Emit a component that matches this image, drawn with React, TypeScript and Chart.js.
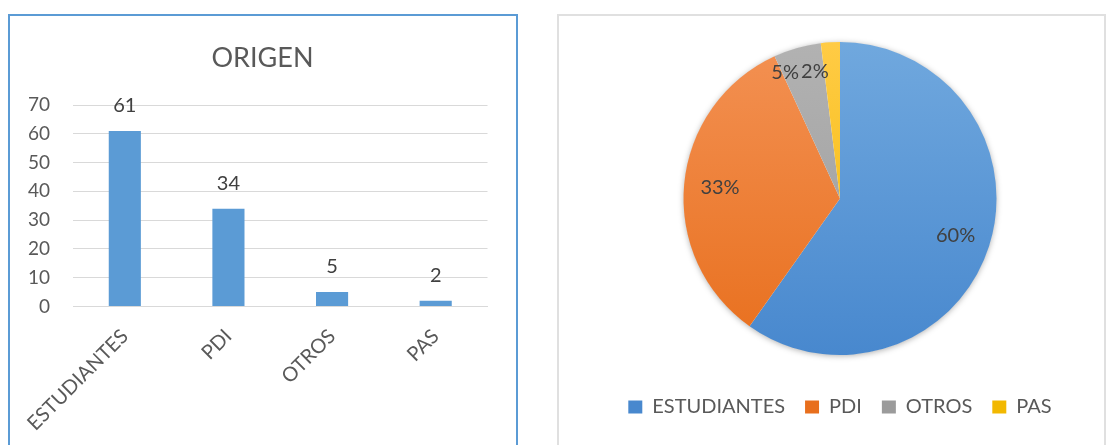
import React, { useEffect, useRef } from "react";
import { Chart, registerables } from "chart.js";

Chart.register(...registerables);

// ---- data ----
const categories = ["ESTUDIANTES", "PDI", "OTROS", "PAS"];
const values = [61, 34, 5, 2];
const yTickValues = [0, 10, 20, 30, 40, 50, 60, 70];
const chartTitle = "ORIGEN";

// ---- styles ----
const FONT = "Lato, 'Open Sans', sans-serif";
const barColor = "#5B9BD5";
const pieLight = ["#70A8DE", "#F39153", "#B2B2B2", "#FFCB45"];
const pieDark = ["#4888CE", "#E86F1D", "#9B9B9B", "#F2B800"];
const pieLabelRadius = [0.775, 0.77, 0.88, 0.83];
const pieLabelShiftDeg = [0, 0, -7.6, -7.6];
const PIE_R = 156.5;

const barLabelPlugin = {
  id: "barLabels",
  afterDatasetsDraw(chart: any) {
    const { ctx } = chart;
    const meta = chart.getDatasetMeta(0);
    ctx.save();
    ctx.font = `20px ${FONT}`;
    ctx.fillStyle = "#404040";
    ctx.textAlign = "center";
    ctx.textBaseline = "alphabetic";
    meta.data.forEach((el: any, i: number) => {
      ctx.fillText(String(values[i]), el.x, el.y - 19);
    });
    ctx.restore();
  },
};

const pieShadowPlugin = {
  id: "pieShadow",
  beforeDatasetsDraw(chart: any) {
    const { ctx } = chart;
    const arc = chart.getDatasetMeta(0).data[0];
    if (!arc) return;
    const p = arc.getProps(["x", "y", "outerRadius"], true);
    ctx.save();
    ctx.shadowColor = "rgba(0,0,0,0.35)";
    ctx.shadowBlur = 6;
    ctx.shadowOffsetX = 0;
    ctx.shadowOffsetY = 1;
    ctx.fillStyle = "#FFFFFF";
    ctx.beginPath();
    ctx.arc(p.x, p.y, p.outerRadius - 0.5, 0, Math.PI * 2);
    ctx.fill();
    ctx.restore();
  },
};

const pieLabelPlugin = {
  id: "pieLabels",
  afterDatasetsDraw(chart: any) {
    const { ctx } = chart;
    const meta = chart.getDatasetMeta(0);
    const total = values.reduce((a, b) => a + b, 0);
    ctx.save();
    ctx.font = `20px ${FONT}`;
    ctx.fillStyle = "#404040";
    ctx.textAlign = "center";
    ctx.textBaseline = "middle";
    meta.data.forEach((arc: any, i: number) => {
      const p = arc.getProps(["x", "y", "startAngle", "endAngle", "outerRadius"], true);
      const a = (p.startAngle + p.endAngle) / 2 + (pieLabelShiftDeg[i] * Math.PI) / 180;
      const r = p.outerRadius * pieLabelRadius[i];
      ctx.fillText(`${Math.round((values[i] / total) * 100)}%`, p.x + r * Math.cos(a), p.y + r * Math.sin(a));
    });
    ctx.restore();
  },
};

function BarChart() {
  const ref = useRef<HTMLCanvasElement>(null);
  useEffect(() => {
    if (!ref.current) return;
    const chart = new Chart(ref.current, {
      type: "bar",
      data: {
        labels: categories,
        datasets: [
          {
            data: values,
            backgroundColor: barColor,
            barPercentage: 0.31,
            categoryPercentage: 1,
          },
        ],
      },
      options: {
        animation: false,
        responsive: false,
        maintainAspectRatio: false,
        layout: { padding: { left: 0, right: 0, top: 0, bottom: 0 } },
        plugins: {
          legend: { display: false },
          tooltip: { enabled: false },
          title: {
            display: true,
            text: chartTitle,
            color: "#595959",
            font: { family: FONT, size: 27, weight: "normal" as any },
            padding: { top: 26, bottom: 30.6 },
          },
        },
        scales: {
          x: {
            grid: { display: false, drawTicks: false },
            border: { display: true, color: "#D9D9D9", width: 1 },
            ticks: {
              color: "#595959",
              font: { family: FONT, size: 20 },
              maxRotation: 45,
              minRotation: 45,
              padding: 18,
              autoSkip: false,
            },
            afterFit: (s: any) => {
              s.height = 138.5;
              s.paddingLeft = 0;
              s.paddingRight = 27.5;
            },
          },
          y: {
            min: 0,
            max: 70,
            afterBuildTicks: (s: any) => {
              s.ticks = yTickValues.map((v) => ({ value: v }));
            },
            ticks: { color: "#595959", font: { family: FONT, size: 19 }, padding: 23 },
            grid: { color: "#D9D9D9", drawTicks: false },
            border: { display: false },
            afterFit: (s: any) => {
              s.width = 63;
              s.paddingTop = 0;
              s.paddingBottom = 0;
            },
          },
        },
      },
      plugins: [barLabelPlugin],
    });
    return () => chart.destroy();
  }, []);
  return (
    <canvas
      ref={ref}
      width={505}
      height={429}
      style={{ position: "absolute", left: 10, top: 16, width: 505, height: 429 }}
    />
  );
}

function PieChart() {
  const ref = useRef<HTMLCanvasElement>(null);
  useEffect(() => {
    if (!ref.current) return;
    const chart = new Chart(ref.current, {
      type: "pie",
      data: {
        labels: categories,
        datasets: [
          {
            data: values,
            borderWidth: 0,
            radius: PIE_R,
            backgroundColor: (c: any) => {
              const i = c.dataIndex;
              const ch = c.chart;
              const ca = ch.chartArea;
              if (!ca) return pieLight[i];
              const cy = (ca.top + ca.bottom) / 2;
              const g = ch.ctx.createLinearGradient(0, cy - PIE_R, 0, cy + PIE_R);
              g.addColorStop(0, pieLight[i]);
              g.addColorStop(1, pieDark[i]);
              return g;
            },
          } as any,
        ],
      },
      options: {
        animation: false,
        responsive: false,
        maintainAspectRatio: false,
        layout: { padding: { top: 4, bottom: 18, left: 0, right: 0 } },
        plugins: {
          tooltip: { enabled: false },
          legend: {
            position: "bottom",
            labels: {
              boxWidth: 14,
              boxHeight: 13,
              padding: 20,
              color: "#595959",
              font: { family: FONT, size: 20 },
            },
          },
        },
      },
      plugins: [pieShadowPlugin, pieLabelPlugin],
    });
    return () => chart.destroy();
  }, []);
  return (
    <canvas
      ref={ref}
      width={536}
      height={429}
      style={{ position: "absolute", left: 572, top: 16, width: 536, height: 429 }}
    />
  );
}

export default function App() {
  return (
    <div
      style={{
        position: "absolute",
        left: 0,
        top: 0,
        width: 1110,
        height: 445,
        overflow: "hidden",
        background: "#FFFFFF",
      }}
    >
      <div
        style={{
          position: "absolute",
          left: 8,
          top: 14,
          width: 510,
          height: 460,
          boxSizing: "border-box",
          border: "2px solid #5B9BD5",
        }}
      />
      <div
        style={{
          position: "absolute",
          left: 557,
          top: 14,
          width: 549,
          height: 460,
          boxSizing: "border-box",
          border: "2px solid #E0E0E0",
        }}
      />
      <BarChart />
      <PieChart />
    </div>
  );
}
